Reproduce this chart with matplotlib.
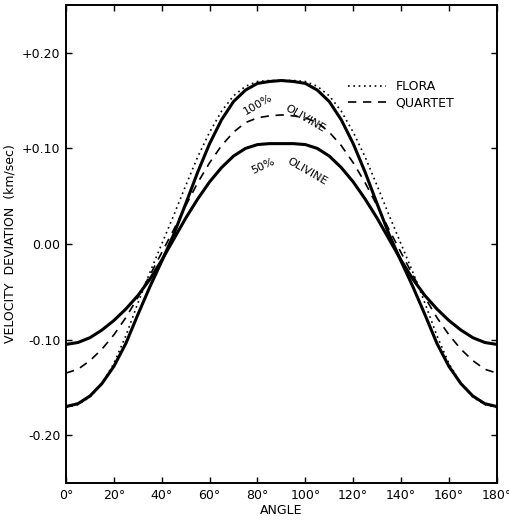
import matplotlib
matplotlib.use("Agg")
import matplotlib.pyplot as plt

angles = [0, 5, 10, 15, 20, 25, 30, 35, 40, 45, 50, 55, 60, 65, 70, 75, 80, 85, 90,
          95, 100, 105, 110, 115, 120, 125, 130, 135, 140, 145, 150, 155, 160, 165, 170, 175, 180]

olivine100 = [-0.170, -0.167, -0.159, -0.146, -0.128, -0.104, -0.074, -0.045, -0.018, 0.010,
              0.042, 0.075, 0.105, 0.130, 0.149, 0.161, 0.168, 0.170, 0.171,
              0.170, 0.168, 0.161, 0.149, 0.130, 0.105, 0.075, 0.042, 0.010, -0.018,
              -0.045, -0.074, -0.104, -0.128, -0.146, -0.159, -0.167, -0.170]
olivine50 = [-0.105, -0.103, -0.098, -0.090, -0.080, -0.068, -0.054, -0.037, -0.017, 0.005,
             0.027, 0.047, 0.065, 0.080, 0.092, 0.100, 0.104, 0.105, 0.105,
             0.105, 0.104, 0.100, 0.092, 0.080, 0.065, 0.047, 0.027, 0.005, -0.017,
             -0.037, -0.054, -0.068, -0.080, -0.090, -0.098, -0.103, -0.105]
quartet = [-0.135, -0.131, -0.122, -0.110, -0.095, -0.077, -0.056, -0.033, -0.009, 0.015,
           0.040, 0.064, 0.085, 0.103, 0.117, 0.127, 0.132, 0.134, 0.135,
           0.134, 0.132, 0.127, 0.117, 0.103, 0.085, 0.064, 0.040, 0.015, -0.009,
           -0.033, -0.056, -0.077, -0.095, -0.110, -0.122, -0.131, -0.135]
flora = [-0.171, -0.168, -0.160, -0.146, -0.125, -0.096, -0.062, -0.030, 0.000, 0.030,
         0.061, 0.091, 0.117, 0.139, 0.155, 0.165, 0.170, 0.171, 0.171,
         0.171, 0.170, 0.165, 0.155, 0.139, 0.117, 0.091, 0.061, 0.030, 0.000,
         -0.030, -0.062, -0.096, -0.125, -0.146, -0.160, -0.168, -0.171]

xticks = [0, 20, 40, 60, 80, 100, 120, 140, 160, 180]
xticklabels = ["0°", "20°", "40°", "60°", "80°", "100°", "120°", "140°", "160°", "180°"]
yticks = [-0.20, -0.10, 0.00, 0.10, 0.20]
yticklabels = ["-0.20", "-0.10", "0.00", "+0.10", "+0.20"]

plt.rcParams['font.family'] = ['DejaVu Sans']

fig = plt.figure(figsize=(5.09, 5.21), dpi=100)
ax = fig.add_axes([0.1297, 0.0729, 0.8463, 0.9175])

ax.plot(angles, flora, color='black', lw=1.2, ls=(0, (1, 2.2)), label='FLORA')
ax.plot(angles, quartet, color='black', lw=1.2, ls=(0, (5, 4)), label='QUARTET')
ax.plot(angles, olivine100, color='black', lw=2.2, solid_capstyle='round', solid_joinstyle='round')
ax.plot(angles, olivine50, color='black', lw=2.2, solid_capstyle='round', solid_joinstyle='round')

ax.set_xlim(0, 180)
ax.set_ylim(-0.25, 0.25)
ax.set_xticks(xticks)
ax.set_xticklabels(xticklabels, fontsize=9)
ax.set_yticks(yticks)
ax.set_yticklabels(yticklabels, fontsize=9)
ax.tick_params(direction='in', length=4, width=1, top=True, right=True, pad=4)
for s in ax.spines.values():
    s.set_linewidth(1.4)

ax.set_xlabel("ANGLE", fontsize=9, labelpad=2)
ax.set_ylabel("VELOCITY  DEVIATION  (km/sec)", fontsize=9, labelpad=4)

leg = ax.legend(loc='center left', bbox_to_anchor=(0.655, 0.812), frameon=False,
                fontsize=9, handlelength=3.0, handletextpad=0.8, labelspacing=0.25,
                borderpad=0, borderaxespad=0)

ax.text(80.2, 0.146, "100%", rotation=30, fontsize=8, ha='center', va='center')
ax.text(100.0, 0.131, "OLIVINE", rotation=-30, fontsize=8, ha='center', va='center')
ax.text(82.3, 0.081, "50%", rotation=25, fontsize=8, ha='center', va='center')
ax.text(100.7, 0.076, "OLIVINE", rotation=-30, fontsize=8, ha='center', va='center')

fig.savefig("out.png", dpi=100)
